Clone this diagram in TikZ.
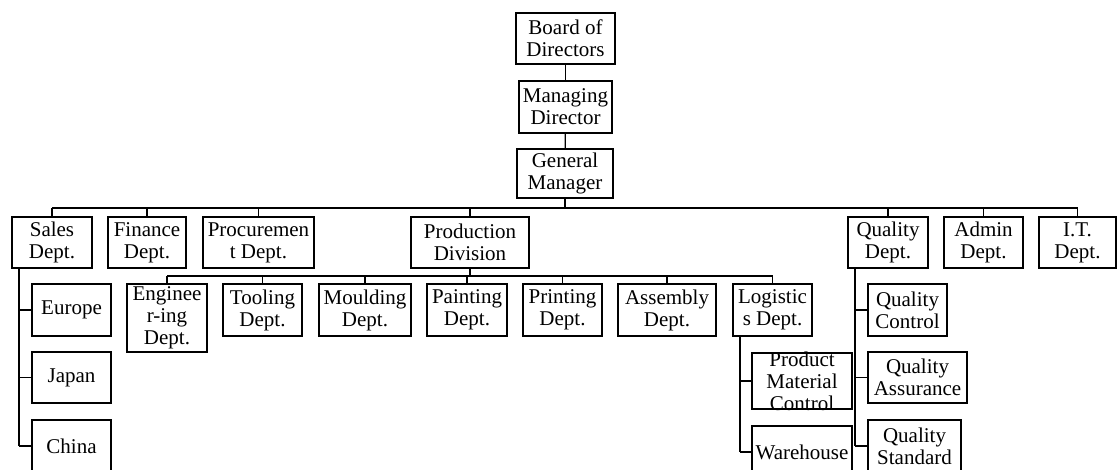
\documentclass[tikz,border=0pt]{standalone}
\usepackage{fontspec}
\setmainfont{Liberation Serif}
\begin{document}
\begin{tikzpicture}[x=1pt,y=-1pt,
  unit/.style={draw, line width=1.6pt, inner sep=0pt, align=center,
    font=\fontsize{21}{22}\selectfont},
  label/.style={inner sep=0pt, align=center, font=\fontsize{21}{22}\selectfont},
  link/.style={line width=1.3pt},
  trunk/.style={line width=2.2pt}]
\useasboundingbox (0,0) rectangle (1117,470);
\begin{scope}
\clip (0,0) rectangle (1117,470);

% top of the hierarchy
\node[unit, minimum width=99, minimum height=51] (board) at (565.5,38.5) {Board of\\Directors};
\node[unit, minimum width=93, minimum height=52] (md) at (565.5,107) {Managing\\Director};
\node[unit, minimum width=96, minimum height=49] (gm) at (565,173.5) {General\\Manager};

% departments
\node[unit, minimum width=80, minimum height=51] (sales) at (52,242.5) {Sales\\Dept.};
\node[unit, minimum width=78, minimum height=51] (fin) at (147,242.5) {Finance\\Dept.};
\node[unit, minimum width=111, minimum height=51] (proc) at (258.5,242.5) {Procuremen\\t Dept.};
\node[unit, minimum width=118, minimum height=51] (prod) at (470,242.5) {Production\\Division};
\node[unit, minimum width=80, minimum height=51] (qual) at (888,242.5) {Quality\\Dept.};
\node[unit, minimum width=79, minimum height=51] (admin) at (983.5,242.5) {Admin\\Dept.};
\node[unit, minimum width=77, minimum height=51] (it) at (1077.5,242.5) {I.T.\\Dept.};

% production division units
\node[unit, minimum width=80, minimum height=68] (eng) at (167,318) {Enginee\\r-ing\\Dept.};
\node[unit, minimum width=79, minimum height=52] (tool) at (262.5,310) {Tooling\\Dept.};
\node[unit, minimum width=92, minimum height=52] (mould) at (365,310) {Moulding\\Dept.};
\node[unit, minimum width=80, minimum height=52] (paint) at (467,310) {Painting\\Dept.};
\node[unit, minimum width=79, minimum height=52] (print) at (562.5,310) {Printing\\Dept.};
\node[unit, minimum width=98, minimum height=52] (assem) at (667,310) {Assembly\\Dept.};
\node[unit, minimum width=79, minimum height=52] (logis) at (772.5,310) {Logistic\\s Dept.};

% sales regions
\node[unit, minimum width=79, minimum height=52] (europe) at (71.5,310) {Europe};
\node[unit, minimum width=79, minimum height=51] (japan) at (71.5,377.5) {Japan};
\node[unit, minimum width=79, minimum height=52] (china) at (71.5,446) {China};

% logistics units
\node[unit, minimum width=100, minimum height=56] (pmc) at (802,381) {};
\node[label] at (pmc.center) {Product\\Material\\Control};
\node[unit, minimum width=100, minimum height=52] (ware) at (802,452) {Warehouse};

% quality units
\node[unit, minimum width=79, minimum height=52] (qc) at (907.5,310) {Quality\\Control};
\node[unit, minimum width=99, minimum height=51] (qa) at (917.5,377.5) {Quality\\Assurance};
\node[unit, minimum width=93, minimum height=52] (qs) at (914.5,446) {Quality\\Standard};

% chain of command
\draw[link] (board) -- (md);
\draw[link] (md) -- (gm);

% department bar
\coordinate (bar) at (565,208);
\draw[trunk] (gm.south) -- (bar);
\draw[trunk] (sales.north |- bar) -- (it.north |- bar);
\foreach \d in {sales,fin,proc,prod,qual,admin,it}
  \draw[link] (\d.north) -- (\d.north |- bar);

% production bar
\coordinate (pbar) at (470,276);
\draw[trunk] (prod.south) -- (pbar);
\draw[trunk] (eng.north |- pbar) -- (logis.north |- pbar);
\foreach \d in {eng,tool,mould,paint,print,assem,logis}
  \draw[link] (\d.north) -- (\d.north |- pbar);

% side branches
\coordinate (st) at ([xshift=8]sales.south west);
\draw[trunk] (st) -- (st |- china.west);
\foreach \d in {europe,japan,china}
  \draw[link] (st |- \d.west) -- (\d.west);

\coordinate (lt) at ([xshift=8]logis.south west);
\draw[trunk] (lt) -- (lt |- ware.west);
\foreach \d in {pmc,ware}
  \draw[link] (lt |- \d.west) -- (\d.west);

\coordinate (qt) at ([xshift=8]qual.south west);
\draw[trunk] (qt) -- (qt |- qs.west);
\foreach \d in {qc,qa,qs}
  \draw[link] (qt |- \d.west) -- (\d.west);
\end{scope}
\end{tikzpicture}
\end{document}
